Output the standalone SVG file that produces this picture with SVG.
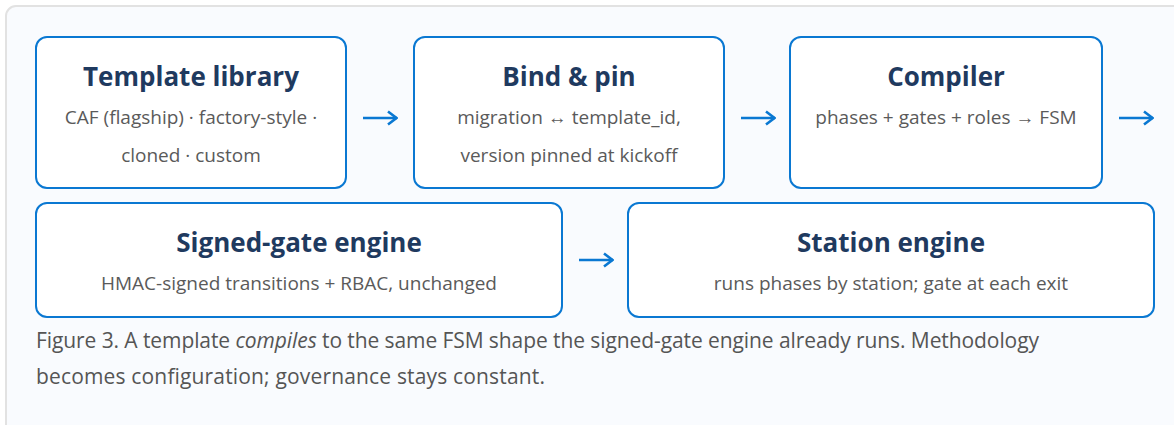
<svg xmlns="http://www.w3.org/2000/svg" width="1174" height="425" viewBox="0 0 1174 425">
  <style>
    .box { fill: #ffffff; stroke: #0a78d2; stroke-width: 2; }
    .title { font-family: "Open Sans", "Noto Sans", sans-serif; font-weight: 700; font-size: 26px; fill: #1f3a5f; text-anchor: middle; }
    .sub { font-family: "Open Sans", "Noto Sans", sans-serif; font-size: 19px; fill: #5a5a5a; text-anchor: middle; }
    .cap { font-family: "Open Sans", "Noto Sans", sans-serif; font-size: 21px; fill: #555555; }
    .conn { stroke: #0a78d2; stroke-width: 2.6; fill: none; }
  </style>
  <defs>
    <marker id="ah" viewBox="0 0 12 16" refX="11" refY="8" markerWidth="12" markerHeight="16" markerUnits="userSpaceOnUse" orient="auto">
      <path d="M2,1.5 L10.5,8 L2,14.5" fill="none" stroke="#0a78d2" stroke-width="2.6"/>
    </marker>
  </defs>
  <rect x="6" y="6" width="1210" height="460" rx="10" fill="#f9fbfe" stroke="#e2e2e2" stroke-width="2"/>

  <g id="n1">
    <rect class="box" x="36" y="37" width="310" height="151" rx="11"/>
    <text class="title" x="191" y="86">Template library</text>
    <text class="sub" x="191" y="124">CAF (flagship) · factory-style ·</text>
    <text class="sub" x="191" y="162">cloned · custom</text>
  </g>
  <g id="n2">
    <rect class="box" x="414" y="37" width="310" height="151" rx="11"/>
    <text class="title" x="569" y="86">Bind &amp; pin</text>
    <text class="sub" x="569" y="124">migration ↔ template_id,</text>
    <text class="sub" x="569" y="162">version pinned at kickoff</text>
  </g>
  <g id="n3">
    <rect class="box" x="790" y="37" width="312" height="151" rx="11"/>
    <text class="title" x="946" y="86">Compiler</text>
    <text class="sub" x="946" y="124">phases + gates + roles → FSM</text>
  </g>
  <g id="n4">
    <rect class="box" x="36" y="203" width="526" height="114" rx="11"/>
    <text class="title" x="299" y="252">Signed-gate engine</text>
    <text class="sub" x="299" y="290">HMAC-signed transitions + RBAC, unchanged</text>
  </g>
  <g id="n5">
    <rect class="box" x="628" y="203" width="526" height="114" rx="11"/>
    <text class="title" x="891" y="252">Station engine</text>
    <text class="sub" x="891" y="290">runs phases by station; gate at each exit</text>
  </g>

  <g id="connectors">
    <line class="conn" x1="363" y1="118" x2="397" y2="118" marker-end="url(#ah)"/>
    <line class="conn" x1="741" y1="118" x2="775" y2="118" marker-end="url(#ah)"/>
    <line class="conn" x1="1119" y1="118" x2="1153" y2="118" marker-end="url(#ah)"/>
    <line class="conn" x1="579" y1="260" x2="613" y2="260" marker-end="url(#ah)"/>
  </g>

  <text class="cap" x="36" y="348" textLength="1003" lengthAdjust="spacing">Figure 3. A template <tspan font-style="italic">compiles</tspan> to the same FSM shape the signed-gate engine already runs. Methodology</text>
  <text class="cap" x="36" y="384" textLength="509" lengthAdjust="spacing">becomes configuration; governance stays constant.</text>
</svg>
